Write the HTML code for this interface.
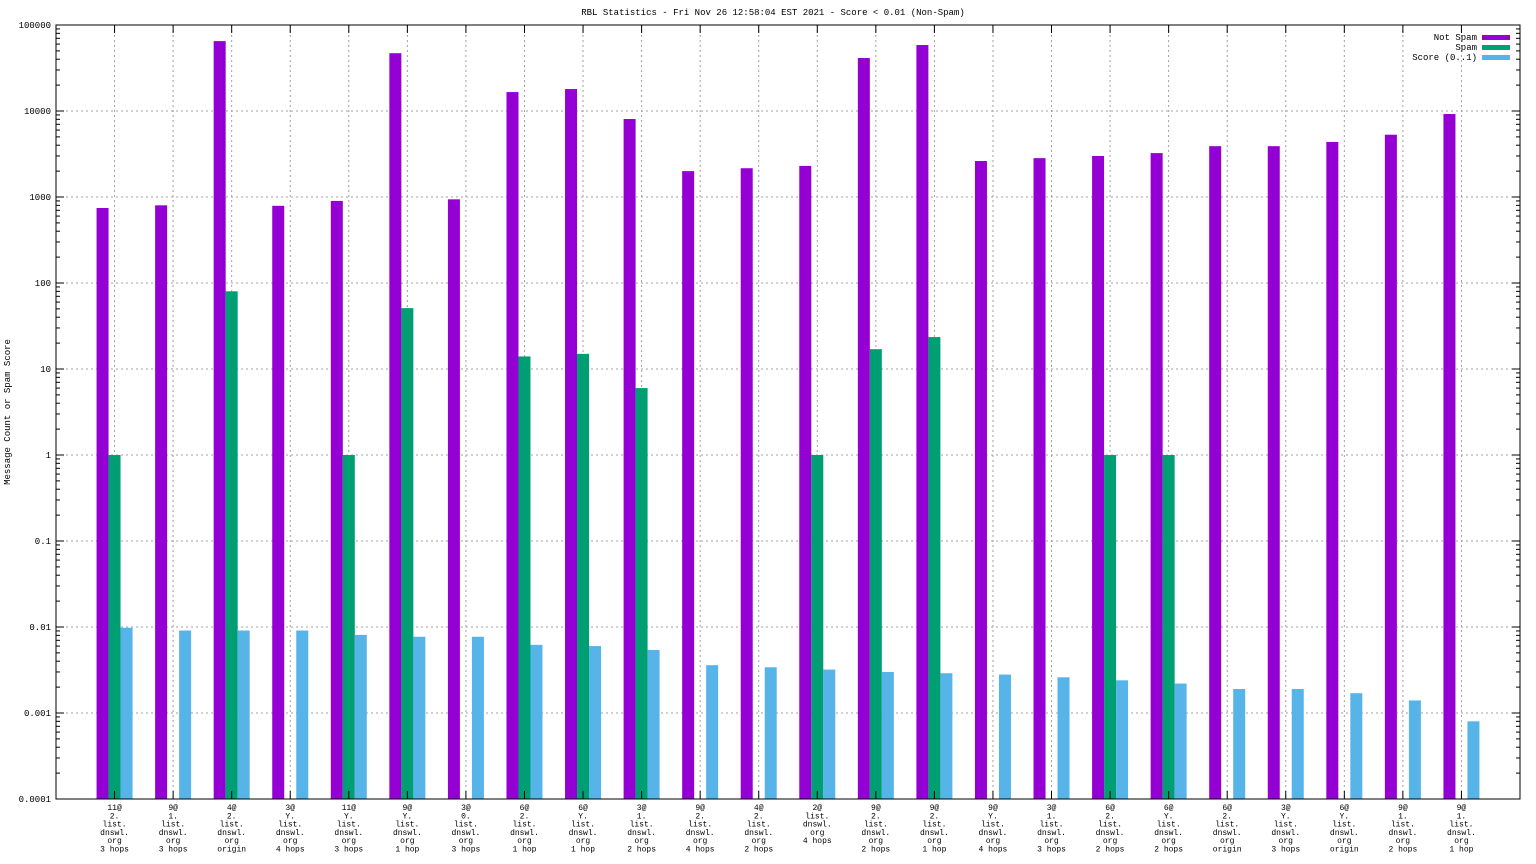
<!DOCTYPE html>
<html><head><meta charset="utf-8"><style>
html,body{margin:0;padding:0;background:#fff;}
svg{display:block;font-family:"Liberation Mono","DejaVu Sans Mono",monospace;}
</style></head><body>
<svg id="chart" width="1536" height="864" viewBox="0 0 1536 864" xmlns="http://www.w3.org/2000/svg">
<rect width="1536" height="864" fill="#fff"/>
<text x="773" y="15" font-size="9" text-anchor="middle">RBL Statistics - Fri Nov 26 12:58:04 EST 2021 - Score &lt; 0.01 (Non-Spam)</text>
<text transform="translate(10,412) rotate(-90)" font-size="9" text-anchor="middle">Message Count or Spam Score</text>
<g id="grid"></g><g id="bars"></g><g id="axes"></g>
<g font-size="9">
<text x="1477" y="40" text-anchor="end">Not Spam</text><rect x="1482" y="35" width="28" height="5" fill="#9400d3"/>
<text x="1477" y="50" text-anchor="end">Spam</text><rect x="1482" y="45" width="28" height="5" fill="#009e73"/>
<text x="1477" y="60" text-anchor="end">Score (0..1)</text><rect x="1482" y="55" width="28" height="5" fill="#56b4e9"/>
</g>
</svg>
<script>
const categories=[["11@","2.","list.","dnswl.","org","3 hops"],["9@","1.","list.","dnswl.","org","3 hops"],["4@","2.","list.","dnswl.","org","origin"],["3@","Y.","list.","dnswl.","org","4 hops"],["11@","Y.","list.","dnswl.","org","3 hops"],["9@","Y.","list.","dnswl.","org","1 hop"],["3@","0.","list.","dnswl.","org","3 hops"],["6@","2.","list.","dnswl.","org","1 hop"],["6@","Y.","list.","dnswl.","org","1 hop"],["3@","1.","list.","dnswl.","org","2 hops"],["9@","2.","list.","dnswl.","org","4 hops"],["4@","2.","list.","dnswl.","org","2 hops"],["2@","list.","dnswl.","org","4 hops"],["9@","2.","list.","dnswl.","org","2 hops"],["9@","2.","list.","dnswl.","org","1 hop"],["9@","Y.","list.","dnswl.","org","4 hops"],["3@","1.","list.","dnswl.","org","3 hops"],["6@","2.","list.","dnswl.","org","2 hops"],["6@","Y.","list.","dnswl.","org","2 hops"],["6@","2.","list.","dnswl.","org","origin"],["3@","Y.","list.","dnswl.","org","3 hops"],["6@","Y.","list.","dnswl.","org","origin"],["9@","1.","list.","dnswl.","org","2 hops"],["9@","1.","list.","dnswl.","org","1 hop"]];
const notSpam=[745,800,65000,790,900,47000,940,16600,18000,8070,2000,2160,2300,41300,58500,2620,2830,3000,3240,3900,3900,4370,5300,9220];
const spam=[1,0,80,0,1,51,0,14,15,6,0,0,1,17,23.5,0,0,1,1,0,0,0,0,0];
const score=[0.0098,0.0091,0.0091,0.0091,0.0081,0.0077,0.0077,0.0062,0.006,0.0054,0.0036,0.0034,0.0032,0.003,0.0029,0.0028,0.0026,0.0024,0.0022,0.0019,0.0019,0.0017,0.0014,0.0008];
const yTicks=["0.0001","0.001","0.01","0.1","1","10","100","1000","10000","100000"];
const NS="http://www.w3.org/2000/svg";
const L=56,R=1520,T=25,B=799,minE=-4,maxE=5;
function y(v){return B-(Math.log10(v)-minE)/(maxE-minE)*(B-T);}
function x(i){return L+(R-L)/(categories.length+1)*(i+1);}
function mk(p,tag,a){const e=document.createElementNS(NS,tag);for(const k in a)e.setAttribute(k,a[k]);p.appendChild(e);return e;}
const grid=document.getElementById('grid'),bars=document.getElementById('bars'),axes=document.getElementById('axes');
yTicks.forEach((t,k)=>{const yy=y(parseFloat(t));
 if(k>0&&k<yTicks.length-1){const g=mk(grid,'line',{x1:L,x2:R,y1:yy,y2:yy,stroke:'#a0a0a0','stroke-dasharray':'2,3','stroke-width':1});
 }
 const tx=mk(axes,'text',{x:L-5,y:yy+3,'font-size':9,'text-anchor':'end'});tx.textContent=t;
 
 mk(axes,'line',{x1:L,x2:L+8,y1:yy,y2:yy,stroke:'#000'});mk(axes,'line',{x1:R-8,x2:R,y1:yy,y2:yy,stroke:'#000'});
 if(k<yTicks.length-1)for(let m=2;m<10;m++){const my=y(parseFloat(t)*m);
  mk(axes,'line',{x1:L,x2:L+4,y1:my,y2:my,stroke:'#000'});mk(axes,'line',{x1:R-4,x2:R,y1:my,y2:my,stroke:'#000'});}
});
const series=[[notSpam,'#9400d3',-18,'bar-not-spam'],[spam,'#009e73',-6,'bar-spam'],[score,'#56b4e9',6,'bar-score']];
categories.forEach((c,i)=>{const cx=x(i);
 const g=mk(grid,'line',{x1:cx,x2:cx,y1:T,y2:B,stroke:'#a0a0a0','stroke-dasharray':'2,3'});
 
 mk(axes,'line',{x1:cx,x2:cx,y1:B-8,y2:B,stroke:'#000'});mk(axes,'line',{x1:cx,x2:cx,y1:T,y2:T+8,stroke:'#000'});
 const tx=mk(axes,'text',{x:cx,y:B+11,'font-size':8,'text-anchor':'middle'});
 
 c.forEach((s,j)=>{const ts=mk(tx,'tspan',{x:cx,dy:j?8.3:0});ts.textContent=s;});
 series.forEach(([arr,col,off,nm])=>{const v=arr[i];if(!(v>0))return;const yy=Math.max(T,y(v));
  const r=mk(bars,'rect',{x:cx+off,y:yy,width:12,height:B-yy,fill:col});
  });
});
const fr=mk(axes,'rect',{x:L,y:T,width:R-L,height:B-T,fill:'none',stroke:'#000'});

</script>
</body></html>
